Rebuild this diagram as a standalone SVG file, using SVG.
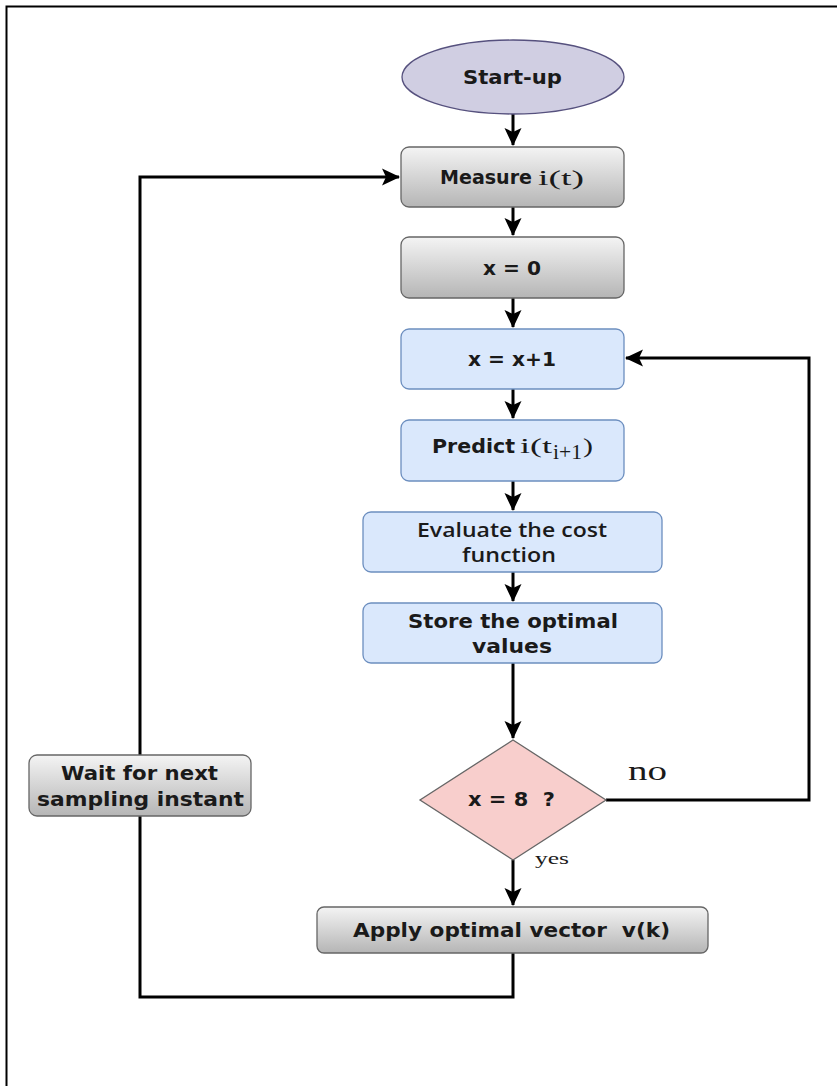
<svg xmlns="http://www.w3.org/2000/svg" width="837" height="1086" viewBox="0 0 837 1086">
<defs>
<linearGradient id="gray" x1="0" y1="0" x2="0" y2="1">
<stop offset="0" stop-color="#f4f4f4"/>
<stop offset="1" stop-color="#b5b5b5"/>
</linearGradient>
<marker id="arr" markerWidth="20" markerHeight="20" viewBox="0 0 20 20" refX="18" refY="10" orient="auto" markerUnits="userSpaceOnUse">
<path d="M1,1.5 L19,10 L1,18.5 L5,10 Z" fill="#000"/>
</marker>
<style>
.g{fill:url(#gray);stroke:#666;stroke-width:1.3}
.b{fill:#dae8fc;stroke:#6c8ebf;stroke-width:1.3}
.t{font-family:"DejaVu Sans",Verdana,sans-serif;font-weight:bold;font-size:19.5px;fill:#1a1a1a}
.o{font-family:"Open Sans",sans-serif;font-weight:600;font-size:19px;fill:#1a1a1a}
.s{font-family:"Liberation Serif","Times New Roman",serif;font-size:22px;fill:#1a1a1a}
.c{stroke:#000;stroke-width:3;fill:none}
</style>
</defs>
<rect width="837" height="1086" fill="#fff"/>
<path d="M837,6.5 H6.5 V1086" fill="none" stroke="#000" stroke-width="2"/>
<g id="connectors">
<path class="c" d="M513,114 V145" marker-end="url(#arr)"/>
<path class="c" d="M513,207 V235" marker-end="url(#arr)"/>
<path class="c" d="M513,298 V327" marker-end="url(#arr)"/>
<path class="c" d="M513,389 V418" marker-end="url(#arr)"/>
<path class="c" d="M513,481 V510" marker-end="url(#arr)"/>
<path class="c" d="M513,572 V601" marker-end="url(#arr)"/>
<path class="c" d="M513,663 V738" marker-end="url(#arr)"/>
<path class="c" d="M513,860 V905" marker-end="url(#arr)"/>
<path class="c" d="M606,800 H809 V358 H626" marker-end="url(#arr)"/>
<path class="c" d="M513,953 V997 H140 V177 H399" marker-end="url(#arr)"/>
<text x="628" y="780" font-family="Liberation Serif,serif" font-size="28" fill="#1a1a1a" textLength="39" lengthAdjust="spacingAndGlyphs">no</text>
<text x="535" y="864" font-family="Liberation Serif,serif" font-size="17" fill="#1a1a1a" textLength="34" lengthAdjust="spacingAndGlyphs">yes</text>
</g>
<g id="start">
<ellipse cx="513" cy="77" rx="111" ry="37" fill="#d0cee2" stroke="#56517e" stroke-width="1.3"/>
<text class="t" x="463" y="84" textLength="99" lengthAdjust="spacingAndGlyphs">Start-up</text>
</g>
<g id="measure">
<rect class="g" x="401" y="147" width="223" height="60" rx="8"/>
<text class="t" x="440" y="184" textLength="92" lengthAdjust="spacingAndGlyphs">Measure</text>
<text class="s" x="538" y="185" font-size="23" textLength="46" lengthAdjust="spacingAndGlyphs">i(t)</text>
</g>
<g id="x0">
<rect class="g" x="401" y="237" width="223" height="61" rx="8"/>
<text class="t" x="483" y="275" textLength="58" lengthAdjust="spacingAndGlyphs">x = 0</text>
</g>
<g id="xinc">
<rect class="b" x="401" y="329" width="223" height="60" rx="8"/>
<text class="t" x="468" y="366" textLength="88" lengthAdjust="spacingAndGlyphs">x = x+1</text>
</g>
<g id="predict">
<rect class="b" x="401" y="420" width="223" height="61" rx="8"/>
<text class="t" x="432" y="453" textLength="83" lengthAdjust="spacingAndGlyphs">Predict</text>
<text class="s" x="520" y="453" textLength="32" lengthAdjust="spacingAndGlyphs">i(t</text>
<text class="s" x="553" y="459" font-size="20" textLength="29" lengthAdjust="spacingAndGlyphs">i+1</text>
<text class="s" x="583" y="453" textLength="10" lengthAdjust="spacingAndGlyphs">)</text>
</g>
<g id="evaluate">
<rect class="b" x="363" y="512" width="299" height="60" rx="8"/>
<text class="o" x="417" y="537" textLength="190" lengthAdjust="spacingAndGlyphs">Evaluate the cost</text>
<text class="o" x="462" y="562" textLength="94" lengthAdjust="spacingAndGlyphs">function</text>
</g>
<g id="store">
<rect class="b" x="363" y="603" width="299" height="60" rx="8"/>
<text class="t" x="408" y="628" textLength="210" lengthAdjust="spacingAndGlyphs">Store the optimal</text>
<text class="t" x="472" y="653" textLength="80" lengthAdjust="spacingAndGlyphs">values</text>
</g>
<g id="decision">
<polygon points="513,740 606,800 513,860 420,800" fill="#f8cecc" stroke="#666" stroke-width="1.3"/>
<text class="t" x="468" y="806" textLength="87" lengthAdjust="spacingAndGlyphs" xml:space="preserve">x = 8  ?</text>
</g>
<g id="apply">
<rect class="g" x="317" y="907" width="391" height="46" rx="7"/>
<text class="t" x="353" y="937" textLength="317" lengthAdjust="spacingAndGlyphs" xml:space="preserve">Apply optimal vector  v(k)</text>
</g>
<g id="wait">
<rect class="g" x="29" y="755" width="222" height="61" rx="8"/>
<text class="t" x="61" y="780" textLength="157" lengthAdjust="spacingAndGlyphs">Wait for next</text>
<text class="t" x="37" y="806" textLength="207" lengthAdjust="spacingAndGlyphs">sampling instant</text>
</g>
</svg>
